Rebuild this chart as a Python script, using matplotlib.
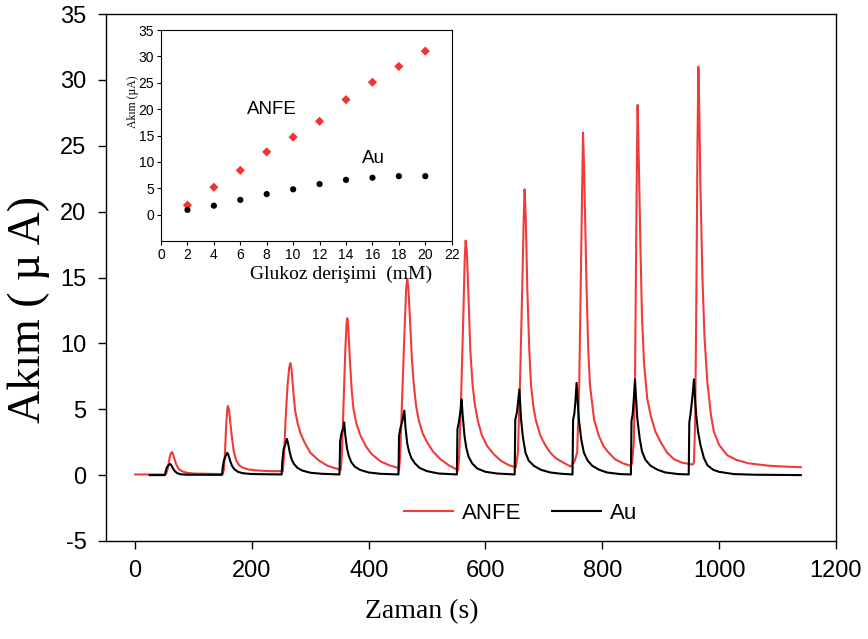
import matplotlib
matplotlib.use("Agg")
import matplotlib.pyplot as plt
from matplotlib.lines import Line2D

plt.rcParams['font.family'] = ['Liberation Sans', 'DejaVu Sans']
plt.rcParams['axes.unicode_minus'] = False
SERIF = ['Liberation Serif', 'DejaVu Serif']
RED = '#ef3b3b'

# amperometric traces, points (time s, current uA)
anfe_t = [0, 50, 53, 56, 59, 61, 63, 65, 68, 71, 75, 80, 88, 100, 120, 148,
          150, 152, 154, 156, 158, 159, 161, 163, 166, 169, 173, 178, 185, 195, 210, 230, 250,
          253, 255, 258, 261, 264, 266, 268, 271, 274, 278, 283, 290, 300, 315, 330, 348,
          352, 354, 357, 360, 362, 363.5, 365, 368, 371, 374, 379, 386, 395, 405, 420, 435, 450,
          452, 454, 457, 461, 464, 466, 468, 471, 474, 477, 481, 486, 493, 500, 510, 523, 537, 552,
          553, 555, 558, 562, 564.5, 566, 568, 571, 574, 578, 582, 587, 594, 603, 614, 626, 640, 652,
          655.5, 659, 663, 665.5, 667, 669, 671.5, 675, 678, 682, 686, 694, 702, 711, 720, 731, 746,
          752, 757, 760.5, 763, 765.5, 767, 769, 773, 776, 779, 786, 794, 802, 811, 822, 835, 849,
          851, 854, 856, 858, 859.5, 860.5, 862, 865.5, 868, 871.5, 877, 883, 891, 900, 911, 923, 936, 955,
          957, 959, 961, 963, 964.5, 966, 968, 971.5, 975, 980, 986, 991, 1000, 1014, 1030, 1050, 1083,
          1110, 1140]
anfe_i = [0.05, 0.05, 0.08, 0.5, 1.3, 1.65, 1.75, 1.6, 1.15, 0.75, 0.45, 0.3, 0.18, 0.12, 0.1, 0.08,
          0.1, 0.4, 1.8, 3.8, 5.1, 5.25, 4.9, 4.0, 2.8, 1.8, 1.15, 0.75, 0.55, 0.42, 0.35, 0.3, 0.3,
          0.3, 1.5, 4.5, 6.8, 8.2, 8.5, 8.0, 6.3, 4.9, 4.0, 3.2, 2.5, 1.7, 1.1, 0.7, 0.45,
          0.4, 1.5, 5.5, 9.5, 11.5, 11.9, 11.2, 8.6, 6.4, 5.0, 3.9, 3.0, 2.2, 1.6, 1.05, 0.75, 0.55,
          0.38, 1.5, 5.5, 10.5, 14.0, 14.9, 14.2, 11.5, 8.8, 7.0, 5.3, 4.1, 3.1, 2.5, 1.8, 1.2, 0.75, 0.4,
          0.35, 1.5, 5.5, 12.0, 16.5, 17.8, 17.0, 13.5, 9.5, 6.8, 5.3, 4.1, 3.0, 2.2, 1.6, 1.1, 0.75, 0.6,
          1.7, 6.8, 14.3, 19.5, 21.7, 19.5, 14.3, 9.5, 6.8, 5.2, 4.2, 3.0, 2.3, 1.7, 1.3, 1.0, 0.65,
          1.0, 1.7, 6.8, 14.3, 22.0, 26.0, 23.0, 14.3, 9.5, 6.8, 4.2, 3.0, 2.2, 1.7, 1.2, 0.9, 0.7,
          0.9, 2.5, 7.0, 17.0, 25.0, 28.1, 25.0, 17.0, 12.0, 8.5, 5.8, 4.5, 3.3, 2.5, 1.7, 1.2, 0.95, 0.8,
          1.0, 4.0, 13.0, 25.0, 31.0, 28.0, 22.0, 15.0, 10.5, 7.0, 4.6, 3.3, 2.3, 1.5, 1.15, 0.9, 0.72,
          0.65, 0.6]

au_t = [25, 51, 52, 54, 57, 60, 62, 65, 68, 72, 78, 90, 148,
        149, 150, 152, 155, 158, 160, 163, 166, 170, 176, 185, 200, 250,
        251, 252, 254, 257, 260, 262, 265, 268, 272, 278, 286, 300, 320, 349,
        350, 351, 353, 356, 358, 360, 363, 366, 370, 376, 385, 400, 420, 449,
        451, 452, 454, 458, 461, 463, 466, 469, 473, 479, 487, 500, 520, 550,
        551, 552, 554, 557, 559, 561, 564, 567, 571, 577, 586, 600, 620, 650,
        651, 654, 658, 661, 664, 668.5, 674, 683, 695, 711, 730, 748,
        749, 750, 752, 754, 756, 758, 760, 764, 768.5, 775, 783, 795, 808, 830, 848,
        849, 850, 852, 854, 856, 858, 860, 864, 868, 874, 883, 895, 908, 930, 947,
        948, 949, 951, 954, 957, 959, 961, 964, 968, 974, 980, 990, 1000, 1025, 1060, 1140]
au_i = [0.0, 0.0, 0.2, 0.55, 0.75, 0.85, 0.75, 0.5, 0.3, 0.15, 0.06, 0.03, 0.02,
        0.03, 0.6, 1.1, 1.45, 1.7, 1.5, 1.05, 0.7, 0.45, 0.25, 0.14, 0.08, 0.05,
        0.05, 1.0, 1.9, 2.3, 2.75, 2.4, 1.7, 1.2, 0.85, 0.55, 0.35, 0.18, 0.1, 0.05,
        0.05, 2.5, 3.1, 3.5, 4.0, 3.0, 2.0, 1.45, 1.0, 0.65, 0.4, 0.2, 0.1, 0.05,
        0.05, 3.0, 3.5, 4.2, 4.9, 3.6, 2.4, 1.8, 1.3, 0.9, 0.55, 0.3, 0.12, 0.05,
        0.05, 3.5, 3.9, 4.8, 5.75, 4.5, 3.0, 2.1, 1.4, 0.9, 0.5, 0.25, 0.12, 0.05,
        4.2, 4.8, 6.5, 4.2, 2.9, 1.7, 1.1, 0.7, 0.4, 0.2, 0.1, 0.05,
        0.05, 4.2, 4.6, 5.6, 7.0, 5.5, 4.2, 2.7, 1.7, 1.1, 0.7, 0.4, 0.2, 0.08, 0.05,
        0.05, 4.1, 4.6, 5.8, 7.25, 5.7, 4.3, 2.8, 1.8, 1.15, 0.7, 0.4, 0.2, 0.08, 0.05,
        0.05, 4.0, 4.6, 5.8, 7.27, 5.7, 4.5, 3.3, 2.3, 1.3, 0.75, 0.4, 0.25, 0.08, 0.03, 0.0]

# calibration (inset)
glukoz_mM = [2, 4, 6, 8, 10, 12, 14, 16, 18, 20]
anfe_cal = [1.8, 5.2, 8.4, 11.9, 14.7, 17.7, 21.8, 25.1, 28.1, 31.0]
au_cal = [0.9, 1.7, 2.8, 3.9, 4.8, 5.8, 6.6, 7.0, 7.3, 7.3]

fig = plt.figure(figsize=(8.68, 6.39), dpi=100)
ax = fig.add_axes([0.122, 0.1534, 0.841, 0.8246])

ax.plot(anfe_t, anfe_i, color=RED, lw=1.5, solid_joinstyle='round')
ax.plot(au_t, au_i, color='black', lw=1.5, solid_joinstyle='round')

ax.set_xlim(-50, 1200)
ax.set_ylim(-5, 35)
ax.set_xticks(range(0, 1201, 200))
ax.set_yticks(range(-5, 36, 5))
ax.tick_params(direction='out', length=6, width=1, labelsize=17, pad=8)
for s in ax.spines.values():
    s.set_linewidth(1.0)

ax.set_xlabel('Zaman (s)', family=SERIF, fontsize=20)
ax.xaxis.set_label_coords(0.433, -0.11)
ax.set_ylabel('Akım ( µ A)', family=SERIF, fontsize=33)
ax.yaxis.set_label_coords(-0.077, 0.44)

handles = [Line2D([], [], color=RED, lw=1.5), Line2D([], [], color='black', lw=1.5)]
ax.legend(handles, ['ANFE', 'Au'], ncol=2, frameon=False, fontsize=16,
          loc='center', bbox_to_anchor=(0.568, 0.053),
          handlelength=2.2, handletextpad=0.4, columnspacing=1.4)

# inset
ins = fig.add_axes([0.1855, 0.6228, 0.3349, 0.3302])
ins.scatter(glukoz_mM, anfe_cal, marker='D', s=22, color='#f23434', edgecolors='none')
ins.scatter(glukoz_mM, au_cal, marker='o', s=20, color='black', edgecolors='none')
ins.set_xlim(0, 22)
ins.set_ylim(-5, 35)
ins.set_xticks(range(0, 23, 2))
ins.set_yticks(range(0, 36, 5))
ins.tick_params(direction='out', length=3, width=0.8, labelsize=10, pad=2)
for s in ins.spines.values():
    s.set_linewidth(0.8)
ins.text(8.4, 20.0, 'ANFE', fontsize=13.5, ha='center', va='center')
ins.text(16.1, 10.7, 'Au', fontsize=13.5, ha='center', va='center')
ins.set_xlabel('Glukoz derişimi  (mM)', family=SERIF, fontsize=14)
ins.xaxis.set_label_coords(0.62, -0.115)
ins.set_ylabel('Akım (µA)', family=SERIF, fontsize=8.5)
ins.yaxis.set_label_coords(-0.076, 0.66)

fig.savefig('out.png', dpi=100)
